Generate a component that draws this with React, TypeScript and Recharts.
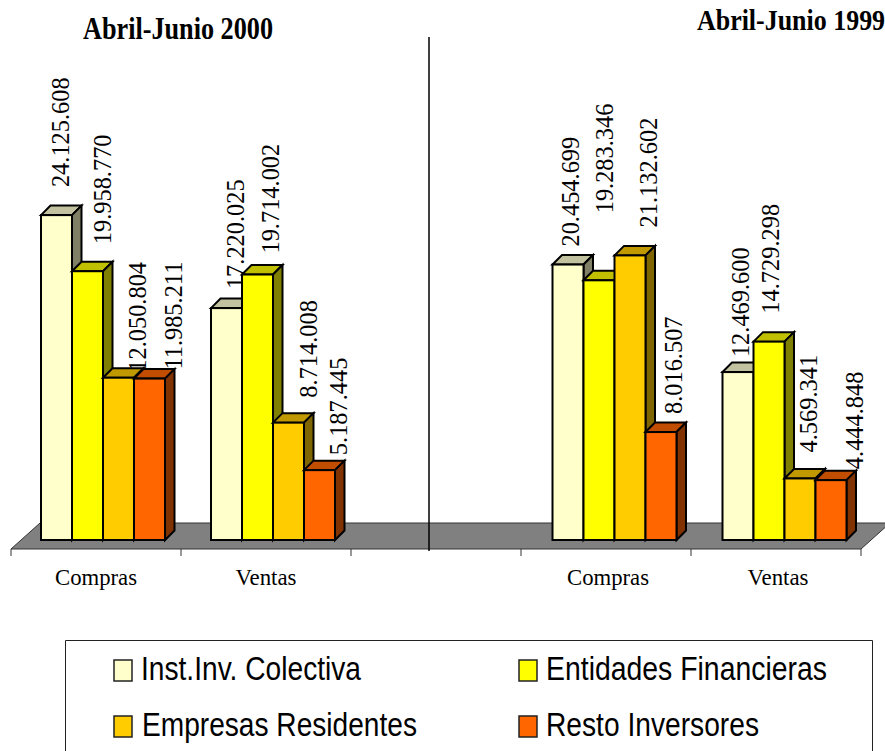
import React from 'react';
import { BarChart, Bar, XAxis, YAxis, Legend } from 'recharts';

const categories = ['Compras', 'Ventas', '', 'Compras', 'Ventas'];
const instInv = [24125608, 17220025, null, 20454699, 12469600];
const entidades = [19958770, 19714002, null, 19283346, 14729298];
const empresas = [12050804, 8714008, null, 21132602, 4569341];
const resto = [11985211, 5187445, null, 8016507, 4444848];

const chartData = categories.map((name, i) => ({
  slot: i,
  name,
  instInv: instInv[i],
  entidades: entidades[i],
  empresas: empresas[i],
  resto: resto[i],
}));

const SERIES = [
  { key: 'instInv', name: 'Inst.Inv. Colectiva', fill: '#FFFFCC', top: '#C2C2A0', side: '#808066' },
  { key: 'entidades', name: 'Entidades Financieras', fill: '#FFFF00', top: '#C0C000', side: '#808000' },
  { key: 'empresas', name: 'Empresas Residentes', fill: '#FFCC00', top: '#C09900', side: '#806600' },
  { key: 'resto', name: 'Resto Inversores', fill: '#FF6600', top: '#C04D00', side: '#803300' },
];

const SERIF = '"Liberation Serif", serif';
const SANS = '"Liberation Sans", sans-serif';
const DEPTH = 9.5;
const HALF_BAND = 85;

// the value labels were placed by hand in the original: [dx from bar centre, gap above bar]
const LABEL_NUDGE: Record<string, [number, number][]> = {
  instInv: [[5, 28], [10, 19], [0, 0], [3, 18], [3.5, 15]],
  entidades: [[15.5, 27], [13.5, 21], [0, 0], [6, 67], [2.5, 28]],
  empresas: [[19.5, 6], [20.5, 25], [0, 0], [19, 28], [9.5, 26]],
  resto: [[25, 9], [20, 15], [0, 0], [13, 18], [24.5, 11]],
};

const fmt = (v: number) => v.toString().replace(/\B(?=(\d{3})+(?!\d))/g, '.');

const makeBarShape = (s: (typeof SERIES)[number]) => (props: any) => {
  const { x, y, width, height, value, payload } = props;
  const val = Array.isArray(value) ? value[1] : value;
  if (val == null || !height) return <g />;
  const slot = payload.slot;
  // bars sit a bit to the right of the band because of the 3D floor
  const left = x + (slot > 2 ? 8.5 : 7);
  const right = left + width;
  const bottom = y + height;
  const [dx, gap] = LABEL_NUDGE[s.key][slot];
  const labelX = left + width / 2 + dx + 8;
  const labelY = y - gap;
  return (
    <g>
      <text
        x={labelX}
        y={labelY}
        transform={`rotate(-90 ${labelX} ${labelY})`}
        fontFamily={SERIF}
        fontSize={24.4}
        fill="#000"
      >
        {fmt(val)}
      </text>
      <polygon
        points={`${left},${y} ${left + DEPTH},${y - DEPTH} ${right + DEPTH},${y - DEPTH} ${right},${y}`}
        fill={s.top}
        stroke="#000"
        strokeWidth={2}
      />
      <polygon
        points={`${right},${y} ${right + DEPTH},${y - DEPTH} ${right + DEPTH},${bottom - DEPTH} ${right},${bottom}`}
        fill={s.side}
        stroke="#000"
        strokeWidth={2}
      />
      <rect x={left} y={y} width={width} height={height} fill={s.fill} stroke="#000" strokeWidth={2} />
    </g>
  );
};

const TICK_WIDTHS: Record<string, number> = { Compras: 82, Ventas: 61 };

const AxisTick = (props: any) => {
  const { x, y, payload, index } = props;
  const label = payload.value;
  return (
    <g>
      <line x1={x - HALF_BAND} x2={x - HALF_BAND} y1={y + 9} y2={y + 16} stroke="#333" />
      {index === categories.length - 1 && (
        <line x1={x + HALF_BAND} x2={x + HALF_BAND} y1={y + 9} y2={y + 16} stroke="#333" />
      )}
      {label && (
        <text
          x={index > 2 ? x + 2 : x}
          y={y + 45}
          textAnchor="middle"
          fontFamily={SERIF}
          fontSize={24}
          fill="#000"
          textLength={TICK_WIDTHS[label]}
          lengthAdjust="spacingAndGlyphs"
        >
          {label}
        </text>
      )}
    </g>
  );
};

const LEGEND_SLOTS = [
  { x: 49, y: 20, tx: 76, tw: 220 },
  { x: 454, y: 20, tx: 481, tw: 281 },
  { x: 49, y: 76, tx: 77, tw: 275 },
  { x: 454, y: 76, tx: 481, tw: 213 },
];

const LegendBox = () => (
  <svg width={808} height={111} style={{ display: 'block' }}>
    <path d="M0.5 111 V0.5 H807.5 V111" fill="#fff" stroke="#222" />
    {SERIES.map((s, i) => {
      const slot = LEGEND_SLOTS[i];
      return (
        <g key={s.key}>
          <rect x={slot.x} y={slot.y} width={18} height={21} fill={s.fill} stroke="#222" strokeWidth={1.5} />
          <text
            x={slot.tx}
            y={slot.y + 20}
            fontFamily={SANS}
            fontSize={33}
            fill="#000"
            textLength={slot.tw}
            lengthAdjust="spacingAndGlyphs"
          >
            {s.name}
          </text>
        </g>
      );
    })}
  </svg>
);

export default function App() {
  return (
    <div style={{ position: 'absolute', left: 0, top: 0, width: 885, height: 751, overflow: 'hidden', background: '#fff' }}>
      <BarChart
        width={885}
        height={751}
        data={chartData}
        margin={{ top: 136, right: 24, bottom: 70, left: 11 }}
        barCategoryGap={23}
        barGap={0}
      >
        <polygon points="11,549 40,523 890,523 861,549" fill="#808080" stroke="#333" strokeWidth={1} />
        <YAxis hide domain={[0, 30000000]} />
        <XAxis dataKey="name" axisLine={false} tickLine={false} tickSize={0} tickMargin={0} interval={0} tick={<AxisTick />} />
        {SERIES.map(s => (
          <Bar key={s.key} dataKey={s.key} name={s.name} fill={s.fill} isAnimationActive={false} shape={makeBarShape(s)} />
        ))}
        <line x1={429} x2={429} y1={37} y2={551} stroke="#000" strokeWidth={1.5} />
        <text x={83} y={39} fontFamily={SERIF} fontWeight="bold" fontSize={31} textLength={190} lengthAdjust="spacingAndGlyphs">
          Abril-Junio 2000
        </text>
        <text transform="translate(697 30) scale(0.895 1)" fontFamily={SERIF} fontWeight="bold" fontSize={29}>
          Abril-Junio 1999
        </text>
        <Legend
          content={<LegendBox />}
          wrapperStyle={{ position: 'absolute', left: 65, top: 640, width: 808, height: 111, bottom: 'auto' }}
        />
      </BarChart>
    </div>
  );
}
